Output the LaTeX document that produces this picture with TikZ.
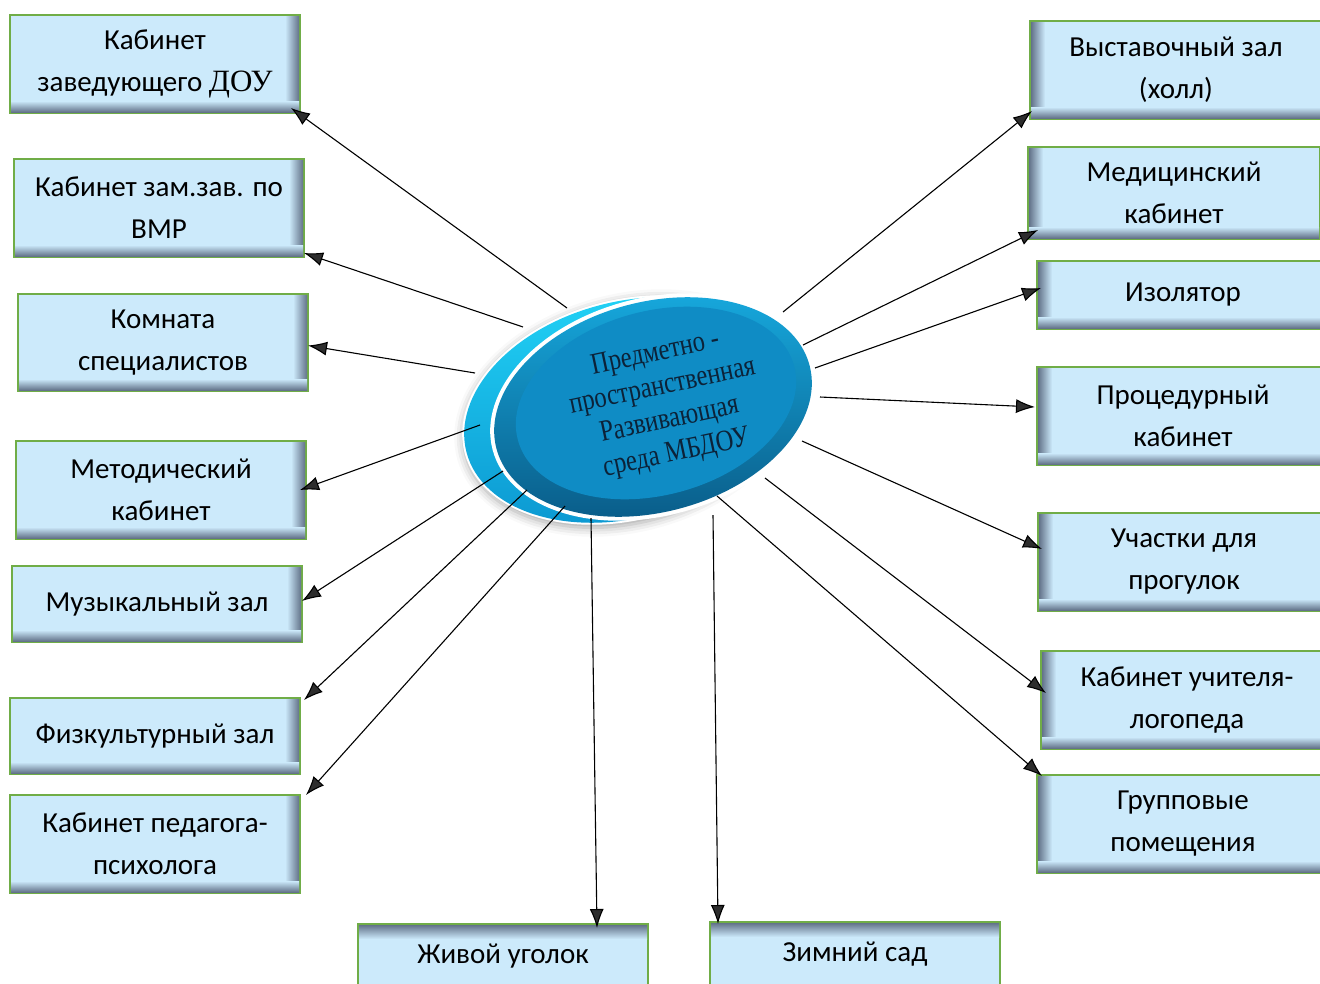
\documentclass[tikz,border=0pt]{standalone}
\usepackage{fontspec}
\setmainfont{Carlito}
\newfontfamily\timesfont{Liberation Serif}
\usepackage{graphicx}
\usetikzlibrary{arrows.meta,shadows.blur}
\definecolor{boxfill}{HTML}{CCEAFB}
\definecolor{boxline}{HTML}{70AD47}
\definecolor{boxedge}{HTML}{63738A}
\definecolor{diskhi}{HTML}{22D4F7}
\definecolor{disklo}{HTML}{0B96D0}
\definecolor{ringhi}{HTML}{17ABE0}
\definecolor{ringlo}{HTML}{095985}
\definecolor{facec}{HTML}{0F8CC5}
\definecolor{inkblue}{HTML}{0C2238}

\begin{document}
\begin{tikzpicture}[x=1pt,y=-1pt,
  room/.style={draw=boxline,line width=2pt,fill=boxfill,minimum width=290pt,minimum height=98pt,
    inner sep=0pt,outer sep=0pt,align=center,font=\fontsize{29}{42}\selectfont},
  arr/.style={line width=1.1pt,-{Latex[length=19pt,width=14pt]}}]
\useasboundingbox (0,0) rectangle (1320,983);

% left column
\node[room] (zav) at (155,64) {Кабинет\\заведующего {\timesfont\fontsize{31}{42}\selectfont ДОУ}};
\node[room] (zam) at (159,208) {Кабинет зам.зав. по\\ВМР};
\node[room,minimum height=97pt] (spec) at (163,342.5) {Комната\\специалистов};
\node[room] (metod) at (161,490) {Методический\\кабинет};
\node[room,minimum height=76pt] (muz) at (157,604) {Музыкальный зал};
\node[room,minimum height=76pt] (fiz) at (155,736) {Физкультурный зал};
\node[room] (psih) at (155,844) {Кабинет педагога-\\психолога};
% bottom
\node[room,minimum height=64pt] (zhiv) at (503,956) {Живой уголок};
\node[room,minimum height=64pt] (zim) at (855,954) {Зимний сад};
% right column
\node[room,minimum width=292pt] (vyst) at (1176,70) {Выставочный зал\\(холл)};
\node[room,minimum width=292pt,minimum height=92pt] (med) at (1174,193) {Медицинский\\кабинет};
\node[room,minimum width=292pt,minimum height=68pt] (izol) at (1183,295) {Изолятор};
\node[room,minimum width=292pt] (proc) at (1183,416) {Процедурный\\кабинет};
\node[room,minimum width=292pt] (uch) at (1184,562) {Участки для\\прогулок};
\node[room,minimum width=292pt] (logo) at (1187,700) {Кабинет учителя-\\логопеда};
\node[room,minimum width=292pt] (grup) at (1183,824) {Групповые\\помещения};

% inner shadows of the boxes
\foreach \n in {zav,zam,spec,metod,muz,fiz,psih}{
  \shade[left color=boxfill,right color=boxedge] ([xshift=-15pt,yshift=-1pt]\n.north east) rectangle ([xshift=-1pt,yshift=1pt]\n.south east);
  \shade[top color=boxfill,bottom color=boxedge] ([xshift=1pt,yshift=12pt]\n.south west) rectangle ([xshift=-1pt,yshift=1pt]\n.south east);
}
\foreach \n in {vyst,med,izol,proc,uch,logo,grup}{
  \shade[left color=boxedge,right color=boxfill] ([xshift=1pt,yshift=-1pt]\n.north west) rectangle ([xshift=15pt,yshift=1pt]\n.south west);
  \shade[top color=boxfill,bottom color=boxedge] ([xshift=1pt,yshift=12pt]\n.south west) rectangle ([xshift=-1pt,yshift=1pt]\n.south east);
}
\foreach \n in {zhiv,zim}
  \shade[top color=boxedge,bottom color=boxfill] ([xshift=1pt,yshift=-1pt]\n.north west) rectangle ([xshift=-1pt,yshift=-15pt]\n.north east);

% the disc
\fill[white,rotate around={15:(626,410)},blur shadow={shadow blur radius=9pt,shadow xshift=1pt,shadow yshift=-3pt,shadow opacity=35}]
  (626,410) ellipse [x radius=167pt,y radius=110pt];
\shade[top color=diskhi,bottom color=disklo,rotate around={15:(626,410)}] (626,410) ellipse [x radius=165pt,y radius=108pt];
\fill[white,rotate around={15:(653,407)}] (653,407) ellipse [x radius=166pt,y radius=109pt];
\shade[top color=ringhi,bottom color=ringlo,rotate around={15:(653,407)}] (653,407) ellipse [x radius=162pt,y radius=105pt];
\fill[facec,rotate around={15:(656,403)}] (656,403) ellipse [x radius=143pt,y radius=92pt];
\node[text=inkblue,rotate=12,inner sep=0pt,font=\timesfont\fontsize{30}{34}\selectfont] (sreda) at (666,404)
  {\scalebox{.82}[1]{\begin{tabular}{@{}c@{}}Предметно -\\пространственная\\Развивающая\\среда МБДОУ\end{tabular}}};

% rim points of the disc
\coordinate (r1) at (567,308);
\coordinate (r2) at (523,327);
\coordinate (r3) at (475,373);
\coordinate (r4) at (480,425);
\coordinate (r5) at (503,471);
\coordinate (r6) at (527,490);
\coordinate (r7) at (565,506);
\coordinate (r8) at (591,518);
\coordinate (r9) at (713,515);
\coordinate (r10) at (783,312);
\coordinate (r11) at (803,345);
\coordinate (r12) at (815,368);
\coordinate (r13) at (820,397);
\coordinate (r14) at (802,441);
\coordinate (r15) at (765,478);
\coordinate (r16) at (717,496);

\draw[arr] (r1) -- ([xshift=-9pt,yshift=5pt]zav.south east);
\draw[arr] (r2) -- ([yshift=4pt]zam.south east);
\draw[arr] (r3) -- ([yshift=-3pt]spec.east);
\draw[arr] (r4) -- ([xshift=-6pt]metod.east);
\draw[arr] (r5) -- ([yshift=3pt]muz.east);
\draw[arr] (r6) -- ([xshift=4pt,yshift=-2pt]fiz.north east);
\draw[arr] (r7) -- ([xshift=6pt]psih.north east);
\draw[arr] (r8) -- ([xshift=94pt,yshift=-4pt]zhiv.north);
\draw[arr] (r9) -- ([xshift=8pt,yshift=-2pt]zim.north west);
\draw[arr] (r10) -- ([xshift=2pt,yshift=8pt]vyst.south west);
\draw[arr] (r11) -- ([xshift=10pt,yshift=9pt]med.south west);
\draw[arr] (r12) -- ([xshift=4pt,yshift=7pt]izol.west);
\draw[arr] (r13) -- ([xshift=-2pt,yshift=9pt]proc.west);
\draw[arr] (r14) -- ([xshift=4pt,yshift=13pt]uch.west);
\draw[arr] (r15) -- ([xshift=5pt,yshift=7pt]logo.west);
\draw[arr] (r16) -- ([xshift=5pt,yshift=-1pt]grup.north west);
\end{tikzpicture}
\end{document}
